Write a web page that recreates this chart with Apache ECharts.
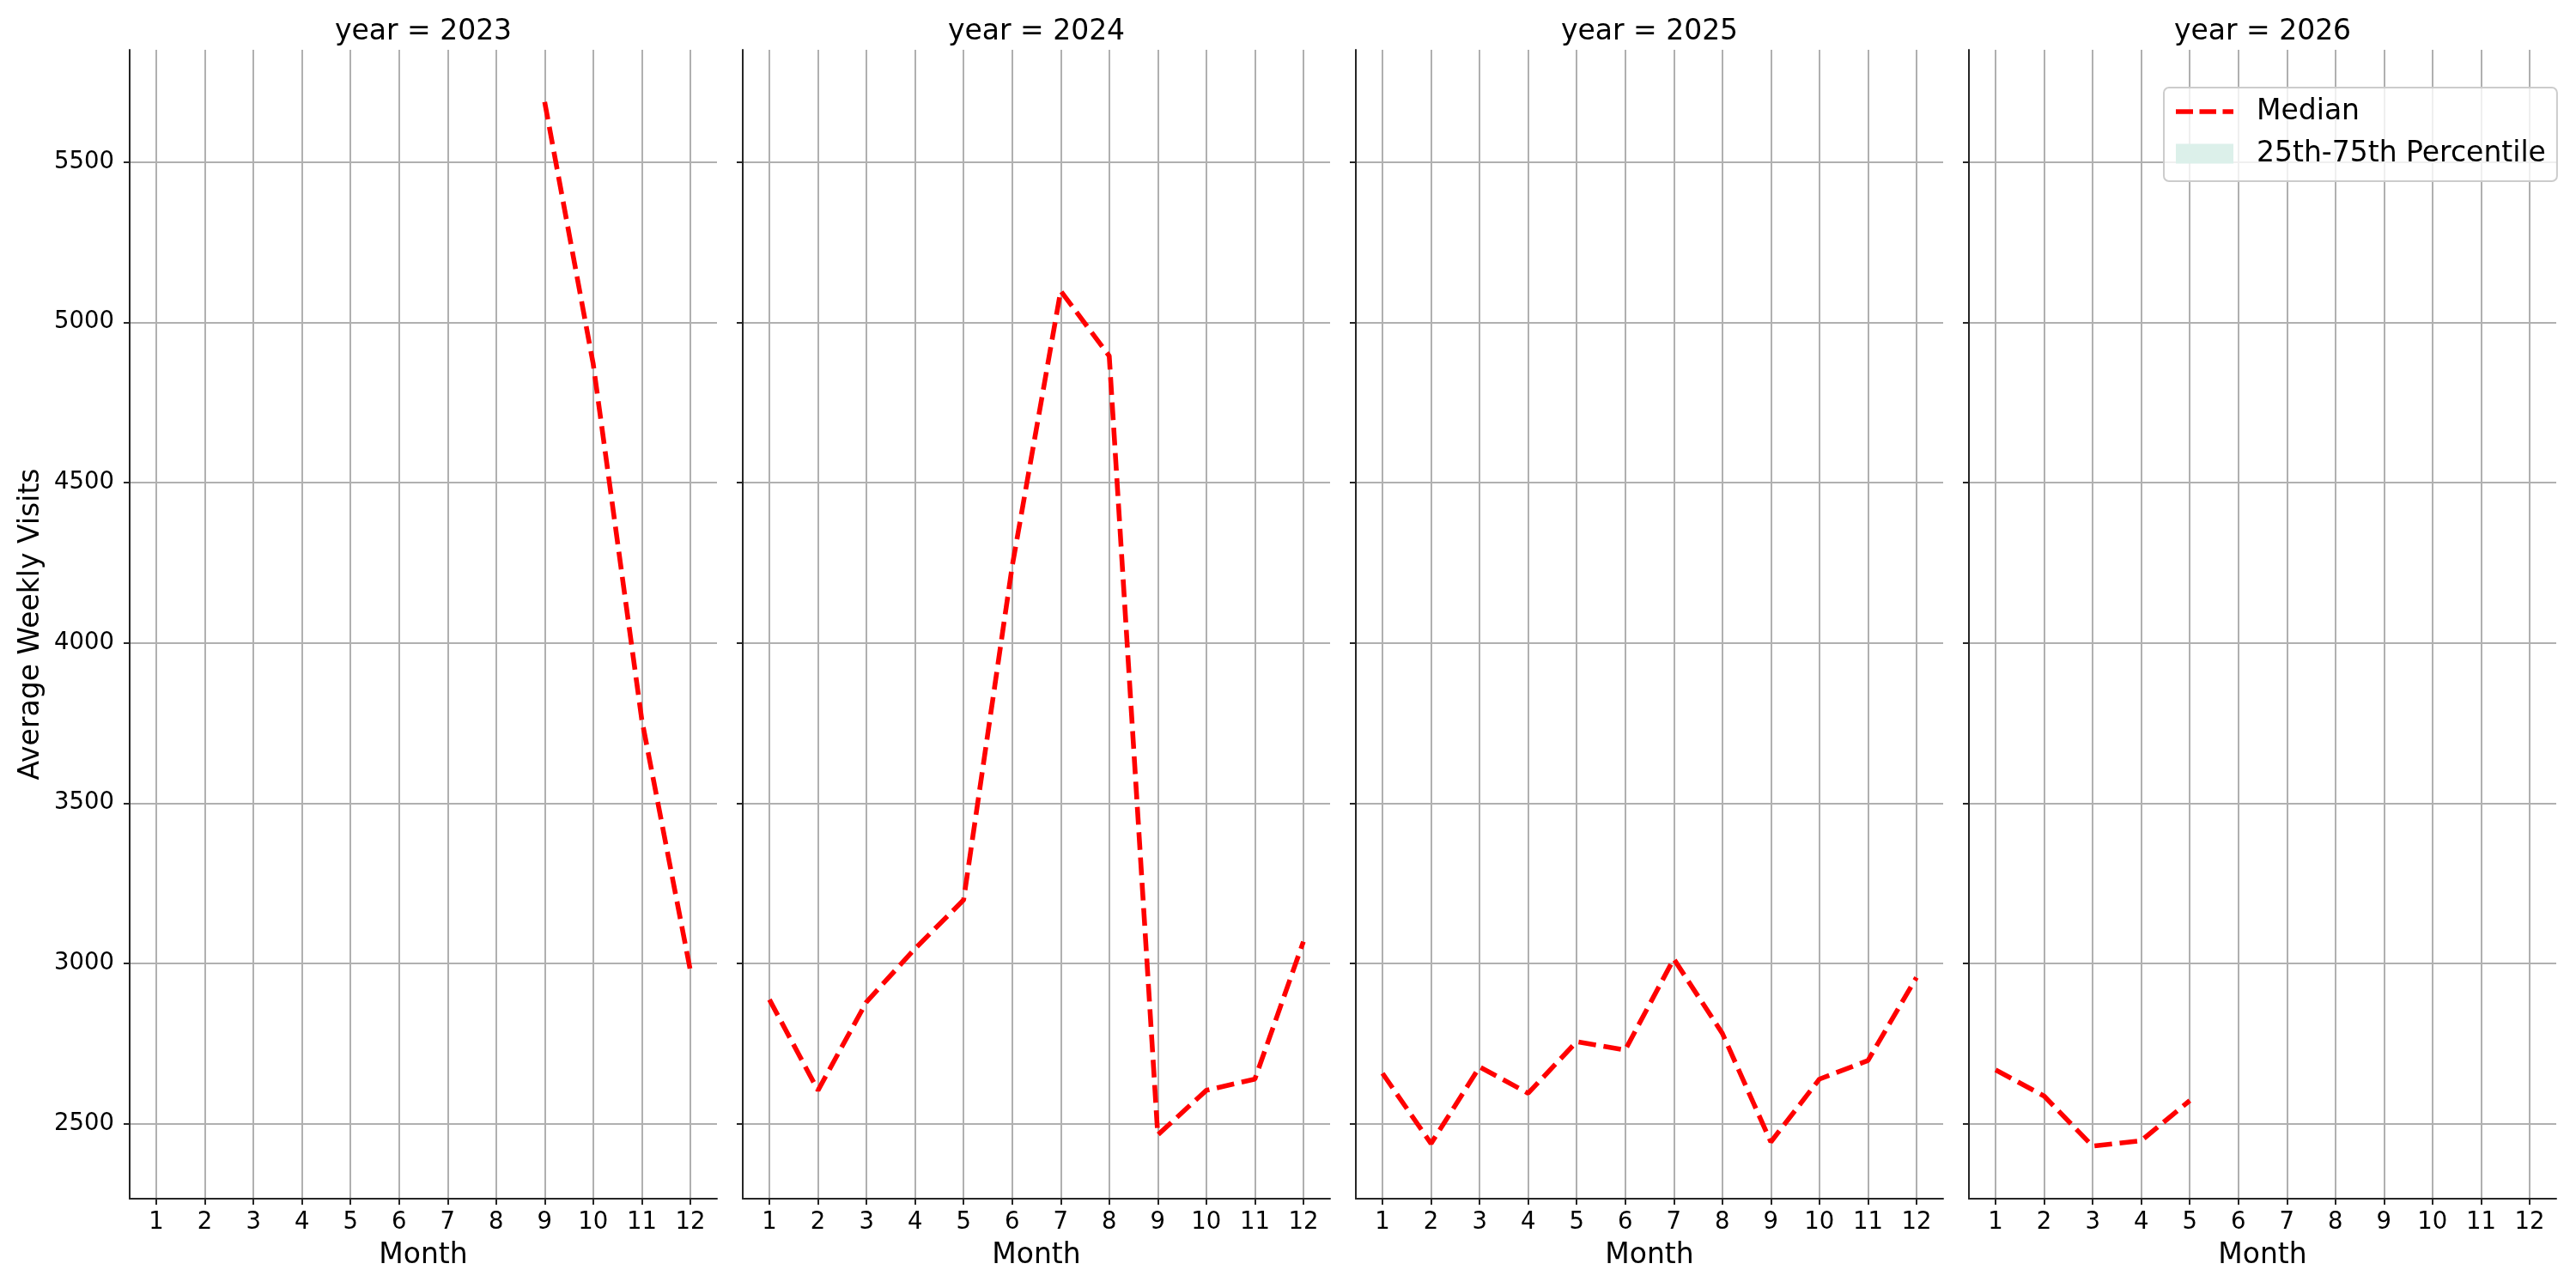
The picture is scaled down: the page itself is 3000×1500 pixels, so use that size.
<!DOCTYPE html>
<html>
<head>
<meta charset="utf-8">
<title>Average Weekly Visits</title>
<script src="https://cdn.jsdelivr.net/npm/echarts@6/dist/echarts.min.js"></script>
<style>
html, body { margin: 0; padding: 0; background: #fff; }
#main { width: 3000px; height: 1500px; }
</style>
</head>
<body>
<div id="main"></div>
<script>
// 月份和年份
var months = [1, 2, 3, 4, 5, 6, 7, 8, 9, 10, 11, 12];
var years = [2023, 2024, 2025, 2026];

// 每月中位数 (没有数据的月份为 null)
var median2023 = [null, null, null, null, null, null, null, null, 5687, 4870, 3761, 2979];
var median2024 = [2887, 2604, 2880, 3046, 3198, 4238, 5098, 4895, 2465, 2604, 2639, 3068];
var median2025 = [2657, 2438, 2677, 2595, 2756, 2730, 3014, 2782, 2443, 2639, 2697, 2956];
var median2026 = [2668, 2586, 2430, 2447, 2572, null, null, null, null, null, null, null];
var medians = [median2023, median2024, median2025, median2026];

// y轴刻度
var yTicks = [2500, 3000, 3500, 4000, 4500, 5000, 5500];

var FONT = 'DejaVu Sans';
var DARK = '#262626';
var GRID_COLOR = '#b0b0b0';

// 每个子图的位置
var frameLeft = [151, 865, 1579, 2293];
var frameWidth = 684;
var frameTop = 58;
var frameBottom = 1396;
var yLo = 2266, yHi = 5850;      // 子图的y范围
var xLo = 0.45, xHi = 12.55;     // 子图的x范围

function yPix(v) {
	return frameBottom - (v - yLo) / (yHi - yLo) * (frameBottom - frameTop);
}
function xPix(i, m) {
	return frameLeft[i] + (m - xLo) / (xHi - xLo) * frameWidth;
}

// 转换为 [月份, 数值]
function toPairs(vals) {
	var out = [];
	for (var i = 0; i < vals.length; i++) {
		if (vals[i] != null) {
			out.push([months[i], vals[i]]);
		}
	}
	return out;
}

var grids = [], xAxes = [], yAxes = [], series = [], titles = [];
var hidden = { show: false };

for (var i = 0; i < years.length; i++) {
	var L = frameLeft[i];

	// A: 边框 (左边和下边的轴线)
	grids.push({ left: L, top: frameTop, width: frameWidth, height: frameBottom - frameTop, outerBoundsMode: 'none' });
	xAxes.push({
		gridIndex: grids.length - 1, type: 'value', min: xLo, max: xHi,
		axisLine: { show: true, onZero: false, lineStyle: { color: DARK, width: 2 } },
		axisTick: hidden, axisLabel: hidden, splitLine: hidden,
		name: 'Month', nameLocation: 'middle', nameGap: 50,
		nameTextStyle: { fontFamily: FONT, fontSize: 33, color: '#000' }
	});
	yAxes.push({
		gridIndex: grids.length - 1, type: 'value', min: yLo, max: yHi,
		axisLine: { show: true, onZero: false, lineStyle: { color: DARK, width: 2 } },
		axisTick: hidden, axisLabel: hidden, splitLine: hidden,
		name: i == 0 ? 'Average Weekly Visits' : '', nameLocation: 'middle', nameGap: 98,
		nameTextStyle: { fontFamily: FONT, fontSize: 33, color: '#000' }
	});

	// C: y刻度和横向网格线
	var yTop = yPix(yTicks[yTicks.length - 1]);
	var yBot = yPix(yTicks[0]);
	grids.push({ left: L, top: yTop, width: frameWidth, height: yBot - yTop, outerBoundsMode: 'none' });
	xAxes.push({ gridIndex: grids.length - 1, type: 'value', min: 0, max: 1, show: false });
	yAxes.push({
		gridIndex: grids.length - 1, type: 'value',
		min: yTicks[0], max: yTicks[yTicks.length - 1], interval: yTicks[1] - yTicks[0],
		axisLine: { show: false },
		axisTick: { show: true, length: 7, lineStyle: { color: DARK, width: 2 } },
		axisLabel: {
			show: i == 0, margin: 18, fontFamily: FONT, fontSize: 27.5, color: '#000',
			formatter: function (v) { return String(v); }
		},
		splitLine: { show: true, lineStyle: { color: GRID_COLOR, width: 2 } }
	});

	// B: x刻度, 竖向网格线和数据
	var x1 = xPix(i, months[0]);
	var x12 = xPix(i, months[months.length - 1]);
	grids.push({ left: x1, top: frameTop, width: x12 - x1, height: frameBottom - frameTop, outerBoundsMode: 'none' });
	xAxes.push({
		gridIndex: grids.length - 1, type: 'value', min: months[0], max: months[months.length - 1], interval: 1,
		axisLine: { show: false, onZero: false },
		axisTick: { show: true, length: 7, lineStyle: { color: DARK, width: 2 } },
		axisLabel: { show: true, margin: 14, fontFamily: FONT, fontSize: 27.5, color: '#000' },
		splitLine: { show: true, lineStyle: { color: GRID_COLOR, width: 2 } }
	});
	yAxes.push({ gridIndex: grids.length - 1, type: 'value', min: yLo, max: yHi, show: false });

	series.push({
		name: 'Median', type: 'line',
		xAxisIndex: xAxes.length - 1, yAxisIndex: yAxes.length - 1,
		data: toPairs(medians[i]),
		symbol: 'none', z: 5,
		lineStyle: { color: '#ff0000', width: 5.6, type: [20.6, 8.9] },
		itemStyle: { color: '#ff0000' }
	});

	titles.push({
		text: 'year = ' + years[i],
		left: L + frameWidth / 2, top: 21, textAlign: 'center', padding: 0,
		textStyle: { fontFamily: FONT, fontSize: 33, fontWeight: 'normal', color: '#000' }
	});
}

// 25-75分位 (图中没有显示出来, 只有图例)
series.push({
	name: '25th-75th Percentile', type: 'bar',
	xAxisIndex: xAxes.length - 1, yAxisIndex: yAxes.length - 1,
	data: [],
	itemStyle: { color: '#dcf0ea' }
});

// 图例里的虚线
var dashIcon = 'path://M0,0h20v5.6h-20z M27.5,0h19.5v5.6h-19.5z M54.5,0h12.5v5.6h-12.5z';

var myChart = echarts.init(document.getElementById('main'));
var option = {
	backgroundColor: '#ffffff',
	animation: false,
	title: titles,
	grid: grids,
	xAxis: xAxes,
	yAxis: yAxes,
	legend: {
		orient: 'vertical',
		left: 2520, top: 102,
		itemWidth: 67, itemHeight: 23, itemGap: 13,
		symbolKeepAspect: true,
		padding: [10, 13, 14, 14],
		backgroundColor: 'rgba(255,255,255,0.8)',
		borderColor: '#cccccc', borderWidth: 2, borderRadius: 6,
		textStyle: { fontFamily: FONT, fontSize: 33, color: '#000', lineHeight: 36, padding: [0, 0, 0, 22] },
		data: [
			{ name: 'Median', icon: dashIcon, itemStyle: { color: '#ff0000' } },
			{ name: '25th-75th Percentile', icon: 'rect' }
		]
	},
	series: series
};
myChart.setOption(option);
</script>
</body>
</html>
